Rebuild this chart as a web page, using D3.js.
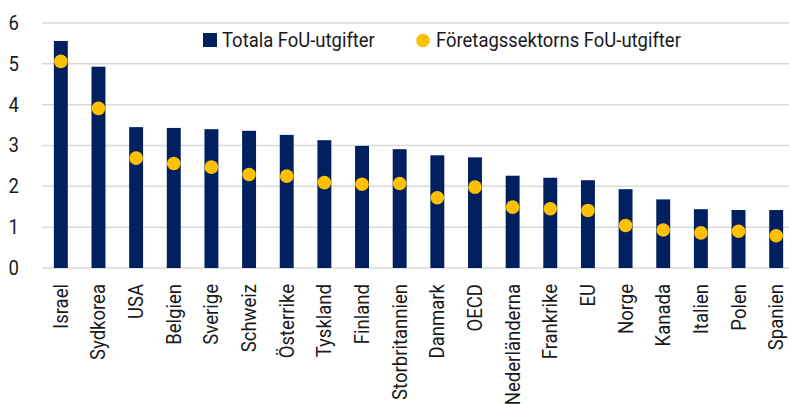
<!DOCTYPE html>
<html><head><meta charset="utf-8">
<script src="https://cdn.jsdelivr.net/npm/d3@7"></script>
<style>
body{margin:0;background:#fff;}
svg{display:block;}
text{font-family:Roboto,"Noto Sans",sans-serif;fill:#1a1a1a;}
</style></head>
<body><svg id="c" width="789" height="404"></svg>
<script>
const categories = ["Israel","Sydkorea","USA","Belgien","Sverige","Schweiz","Österrike","Tyskland","Finland","Storbritannien","Danmark","OECD","Nederländerna","Frankrike","EU","Norge","Kanada","Italien","Polen","Spanien"];
const totalRD = [5.56,4.93,3.45,3.43,3.40,3.36,3.26,3.13,2.99,2.91,2.76,2.71,2.26,2.21,2.15,1.93,1.68,1.44,1.42,1.42];
const businessRD = [5.06,3.91,2.69,2.56,2.47,2.29,2.25,2.09,2.05,2.07,1.72,1.98,1.49,1.45,1.41,1.04,0.93,0.86,0.90,0.79];
const yTicks = [0,1,2,3,4,5,6];
const seriesNames = ["Totala FoU-utgifter","Företagssektorns FoU-utgifter"];

const navy = "#002060", gold = "#FFC000";
const svg = d3.select("#c");
const x = d3.scaleBand().domain(categories).range([42, 795]).paddingInner(0.63).paddingOuter(0.315);
const y = d3.scaleLinear().domain([0,6]).range([268, 23]);

// gridlines
svg.append("g").selectAll("line").data(yTicks).join("line")
  .attr("x1", 42).attr("x2", 789)
  .attr("y1", d => y(d)).attr("y2", d => y(d))
  .attr("stroke", "#d9d9d9").attr("stroke-width", 1.5);

// bars
svg.append("g").selectAll("rect").data(categories).join("rect")
  .attr("x", (d) => x(d)).attr("width", x.bandwidth())
  .attr("y", (d,i) => y(totalRD[i])).attr("height", (d,i) => y(0) - y(totalRD[i]))
  .attr("fill", navy);

// dots
svg.append("g").selectAll("circle").data(categories).join("circle")
  .attr("cx", d => x(d) + x.bandwidth()/2)
  .attr("cy", (d,i) => y(businessRD[i]))
  .attr("r", 6.8).attr("fill", gold);

// x axis labels
const xa = svg.append("g").attr("transform","translate(0,268)")
  .call(d3.axisBottom(x).tickSize(0).tickPadding(0));
xa.select(".domain").remove();
const xt = xa.selectAll("text")
  .style("font-size","20px").style("font-family",null).attr("fill","#1a1a1a")
  .attr("text-anchor","end").attr("dy",null).attr("y",0);
let refLen = 1;
xt.each(function(d){ if(d==="Storbritannien") refLen = this.getComputedTextLength(); });
const fx = 116/refLen;
xt.attr("transform",`translate(7,16) rotate(-90) scale(${fx},1)`);

// y axis labels
const ya = svg.append("g").attr("transform","translate(19,0)")
  .call(d3.axisLeft(y).tickValues(yTicks).tickSize(0).tickPadding(0).tickFormat(d3.format("d")));
ya.select(".domain").remove();
ya.selectAll("text").style("font-size","20px").style("font-family",null).attr("fill","#1a1a1a")
  .attr("transform",`scale(${fx},1)`).attr("x",0);

// legend
const lg = svg.append("g");
lg.append("rect").attr("x",203).attr("y",33).attr("width",14).attr("height",14).attr("fill",navy);
const t1 = lg.append("text").attr("x",0).attr("y",47.5).style("font-size","21px").text(seriesNames[0]);
const f1 = 153/t1.node().getComputedTextLength();
t1.attr("transform",`translate(222,0) scale(${f1},1)`);
lg.append("circle").attr("cx",423).attr("cy",40.5).attr("r",6.8).attr("fill",gold);
const t2 = lg.append("text").attr("x",0).attr("y",47.5).style("font-size","21px").text(seriesNames[1]);
t2.attr("transform",`translate(436,0) scale(${f1},1)`);
</script></body></html>
